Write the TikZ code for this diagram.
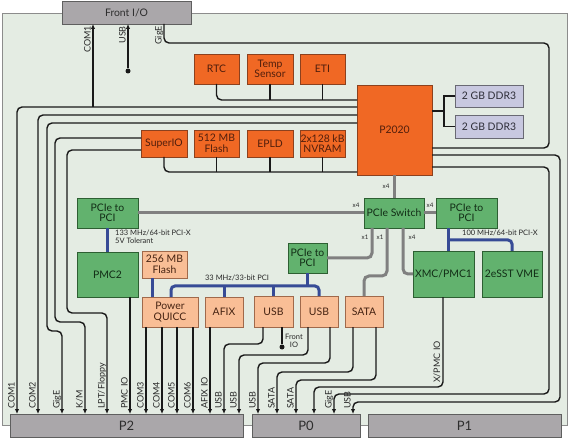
\documentclass[tikz,border=0pt]{standalone}
\usepackage{fontspec}
\setmainfont{Lato}
\usetikzlibrary{arrows.meta}
\definecolor{boardbg}{RGB}{228,236,227}
\definecolor{boardedge}{RGB}{140,140,140}
\definecolor{conngray}{RGB}{170,167,170}
\definecolor{connedge}{RGB}{95,95,95}
\definecolor{connT}{RGB}{45,45,45}
\definecolor{orD}{RGB}{240,104,36}
\definecolor{orB}{RGB}{140,65,30}
\definecolor{orT}{RGB}{80,30,12}
\definecolor{salm}{RGB}{249,190,150}
\definecolor{salB}{RGB}{160,105,75}
\definecolor{salT}{RGB}{70,35,18}
\definecolor{grn}{RGB}{98,178,110}
\definecolor{grnB}{RGB}{45,95,50}
\definecolor{grnT}{RGB}{18,45,22}
\definecolor{lav}{RGB}{200,200,224}
\definecolor{lavB}{RGB}{105,105,115}
\definecolor{lavT}{RGB}{45,45,55}
\definecolor{blu}{RGB}{55,75,150}
\definecolor{pgray}{RGB}{128,128,128}
\definecolor{sigc}{RGB}{25,25,25}
\definecolor{labc}{RGB}{40,40,40}
\tikzset{
  boxbase/.style={rectangle, inner sep=0pt, outer sep=0pt, line width=0.8pt, align=center, font=\fontsize{10.4}{10.5}\selectfont},
  obox/.style={boxbase, fill=orD, draw=orB, text=orT},
  lbox/.style={boxbase, fill=salm, draw=salB, text=salT},
  gbox/.style={boxbase, fill=grn, draw=grnB, text=grnT},
  dbox/.style={boxbase, fill=lav, draw=lavB, text=lavT},
  cbox/.style={boxbase, fill=conngray, draw=connedge, text=connT},
  sig/.style={draw=sigc, line width=1.4pt},
  arr/.style={-{Latex[length=5pt,width=4.5pt]}},
  pcie/.style={draw=pgray, line width=3pt},
  pbus/.style={draw=blu, line width=3pt},
  rlab/.style={rotate=90, inner sep=0pt, text=labc, font=\fontsize{9}{9}\selectfont},
  slab/.style={inner sep=0pt, text=labc, font=\fontsize{7.5}{8}\selectfont, align=left},
  xlab/.style={inner sep=0pt, text=labc, font=\fontsize{6.2}{7}\selectfont},
  dotn/.style={circle, fill=sigc, inner sep=0pt, minimum size=5pt},
}
\newcommand\bx[7]{\node[#2, minimum width={(#5-#3)*1pt}, minimum height={(#6-#4)*1pt}] (#1) at ({(#3+#5)/2},{(#4+#6)/2}) {#7};}
\begin{document}
\begin{tikzpicture}[x=1pt, y=-1pt]
\useasboundingbox (0,0) rectangle (570,438);
% board
\draw[fill=boardbg, draw=boardedge, line width=0.8pt] (2,13) rectangle (567,425);
% connectors
\bx{fio}{cbox}{62}{1}{191}{24}{Front I/O}
\bx{p2}{cbox, font=\fontsize{13}{13}\selectfont}{10}{414}{243}{437}{P2}
\bx{p0}{cbox, font=\fontsize{13}{13}\selectfont}{252}{414}{360}{437}{P0}
\bx{p1}{cbox, font=\fontsize{13}{13}\selectfont}{368}{414}{561}{437}{P1}
% orange blocks
\bx{rtc}{obox}{194}{54}{239}{84}{RTC}
\bx{temp}{obox}{247}{54}{293}{84}{Temp\\Sensor}
\bx{eti}{obox}{300}{54}{345}{84}{ETI}
\bx{superio}{obox}{141}{130}{187}{157}{SuperIO}
\bx{fl512}{obox}{194}{130}{239}{157}{512 MB\\Flash}
\bx{epld}{obox}{247}{130}{293}{157}{EPLD}
\bx{nvram}{obox}{300}{130}{345}{157}{2x128 kB\\NVRAM}
\bx{cpu}{obox}{357}{85}{432}{175}{P2020}
% memory
\bx{ddra}{dbox}{455}{85}{523}{107}{2 GB DDR3}
\bx{ddrb}{dbox}{455}{115}{523}{138}{2 GB DDR3}
% green
\bx{pcil}{gbox}{77}{198}{138}{228}{PCIe to\\PCI}
\bx{pmc2}{gbox}{77}{252}{138}{297}{PMC2}
\bx{pcim}{gbox}{288}{243}{327}{273}{PCIe to\\PCI}
\bx{sw}{gbox}{364}{198}{424}{228}{PCIe Switch}
\bx{pcir}{gbox}{436}{198}{497}{228}{PCIe to\\PCI}
\bx{xmc}{gbox}{413}{251}{474}{297}{XMC/PMC1}
\bx{vme}{gbox}{482}{251}{542}{297}{2eSST VME}
% light orange
\bx{fl256}{lbox}{142}{251}{187}{278}{256 MB\\Flash}
\bx{pq}{lbox}{142}{297}{198}{327}{Power\\QUICC}
\bx{afix}{lbox}{205}{297}{243}{327}{AFIX}
\bx{usba}{lbox}{254}{296}{293}{327}{USB}
\bx{usbb}{lbox}{300}{296}{338}{327}{USB}
\bx{sata}{lbox}{345}{296}{383}{327}{SATA}
% dots
\node[dotn] (udot) at (128,71) {};
\node[dotn] (fdot) at (282,347) {};
\coordinate (comj) at (93,107);
% ---- black signal lines
\draw[sig, rounded corners=5pt] (rtc.south) |- (cpu.west |- 0,100);
\draw[sig] (temp.south) -- (temp.south |- 0,100);
\draw[sig] (eti.south) -- (eti.south |- 0,100);
\draw[sig, rounded corners=5pt] (superio.south) |- (cpu.west |- 0,172);
\draw[sig] (fl512.south) -- (fl512.south |- 0,172);
\draw[sig] (epld.south) -- (epld.south |- 0,172);
\draw[sig] (nvram.south) -- (nvram.south |- 0,172);
\draw[sig, arr, rounded corners=5pt] (cpu.west |- 0,107) -| (p2.north -| 17,0);
\draw[sig, arr] (comj) -- (fio.south -| comj);
\draw[sig, arr] (udot) -- (fio.south -| udot);
\draw[sig, rounded corners=5pt] (fio.south -| 164,0) |- (549,43) |- (cpu.east |- 0,148);
\draw[sig, arr, rounded corners=5pt] (cpu.west |- 0,115) -| (p2.north -| 38,0);
\draw[sig, arr, rounded corners=5pt] (cpu.west |- 0,123) -| (47,331) -| (p2.north -| 62,0);
\draw[sig, arr, rounded corners=5pt] (superio.west |- 0,138) -| (55,322) -| (p2.north -| 85,0);
\draw[sig, arr, rounded corners=5pt] (superio.west |- 0,150) -| (67,313) -| (p2.north -| 107,0);
\draw[sig, arr] (pmc2.south -| 130,0) -- (p2.north -| 130,0);
\foreach \xx in {146,162,177,193} {\draw[sig, arr] (pq.south -| \xx,0) -- (p2.north -| \xx,0);}
\draw[sig, arr] (afix.south -| 210,0) -- (p2.north -| 210,0);
\draw[sig, arr, rounded corners=5pt] (usba.south -| 263,0) |- (224,344) -- (p2.north -| 224,0);
\draw[sig] (usba.south -| fdot) -- (fdot);
\draw[sig, arr, rounded corners=5pt] (usbb.south -| 308,0) |- (239,355) -- (p2.north -| 239,0);
\draw[sig, arr, rounded corners=5pt] (usbb.south -| 330,0) |- (258,363) -- (p0.north -| 258,0);
\draw[sig, arr, rounded corners=5pt] (sata.south -| 353,0) |- (277,372) -- (p0.north -| 277,0);
\draw[sig, arr, rounded corners=5pt] (sata.south -| 376,0) |- (296,380) -- (p0.north -| 296,0);
\draw[sig, arr, rounded corners=5pt] (xmc.south -| 443,0) |- (314,387) -- (p0.north -| 314,0);
\draw[sig, arr, rounded corners=5pt] (cpu.east |- 0,167) -| (549,394) -| (p0.north -| 334,0);
\draw[sig, arr, rounded corners=5pt] (cpu.east |- 0,155) -| (560,402) -| (p0.north -| 353,0);
\draw[sig] (cpu.east |- 0,111) -- (444,111);
\draw[sig] (ddra.west) -| (444,111) |- (ddrb.west);
% ---- PCIe (gray)
\draw[pcie] (cpu.south -| sw.north) -- (sw.north);
\draw[pcie] (sw.west) -- (pcil.east);
\draw[pcie] (sw.east) -- (pcir.west);
\draw[pcie, rounded corners=5pt] (sw.south -| 372,0) |- (pcim.east);
\draw[pcie, rounded corners=5pt] (sw.south -| 387,0) |- (sata.north |- 0,276) -- (sata.north);
\draw[pcie, rounded corners=5pt] (sw.south -| 403,0) |- (xmc.west);
% ---- PCI buses (blue)
\draw[pbus] (pcil.south) -- (pmc2.north);
\draw[pbus] (fl256.south -| 152,0) -- (pq.north -| 152,0);
\draw[pbus, rounded corners=4pt] (pq.north -| 171,0) |- (usbb.north |- 0,286) -- (usbb.north);
\draw[pbus] (pcim.south) -- (pcim.south |- 0,286);
\draw[pbus] (afix.north |- 0,286) -- (afix.north);
\draw[pbus] (usba.north |- 0,286) -- (usba.north);
\draw[pbus] (pcir.south -| 448,0) -- (xmc.north -| 448,0);
\draw[pbus, rounded corners=4pt] (448,240) -| (vme.north);
% ---- labels
\node[slab, anchor=west] (bl1) at (115,237) {133 MHz/64-bit PCI-X\\5V Tolerant};
\node[slab] (bl2) at (237,278) {33 MHz/33-bit PCI};
\node[slab, anchor=west] (bl3) at (462,233) {100 MHz/64-bit PCI-X};
\node[xlab] (x1) at (386,186) {x4};
\node[xlab] (x2) at (356,205) {x4};
\node[xlab] (x3) at (430,205) {x4};
\node[xlab] (x4) at (365,237) {x1};
\node[xlab] (x5) at (380,237) {x1};
\node[xlab] (x6) at (412,237) {x4};
\node[slab, align=center] (fiol) at (294,341) {Front\\IO};
% top labels
\node[rlab, anchor=base east] (t1) at (90.5,26) {COM1};
\node[rlab, anchor=base east] (t2) at (125.5,26) {USB};
\node[rlab, anchor=base east] (t3) at (161.5,26) {GigE};
% bottom labels
\foreach \xx/\tt [count=\i] in {17/COM1,38/COM2,62/GigE,85/K\slash M,107/LPT\slash Floppy,130/PMC IO,146/COM3,162/COM4,177/COM5,193/COM6,210/AFIX IO,224/USB,239/USB,258/USB,277/SATA,296/SATA,334/GigE,353/USB}
  {\node[rlab, anchor=base west] (b\i) at (\xx-2.5,409) {\tt};}
\node[rlab, anchor=base east] (xpl) at (440,341) {X/PMC IO};
\end{tikzpicture}
\end{document}
